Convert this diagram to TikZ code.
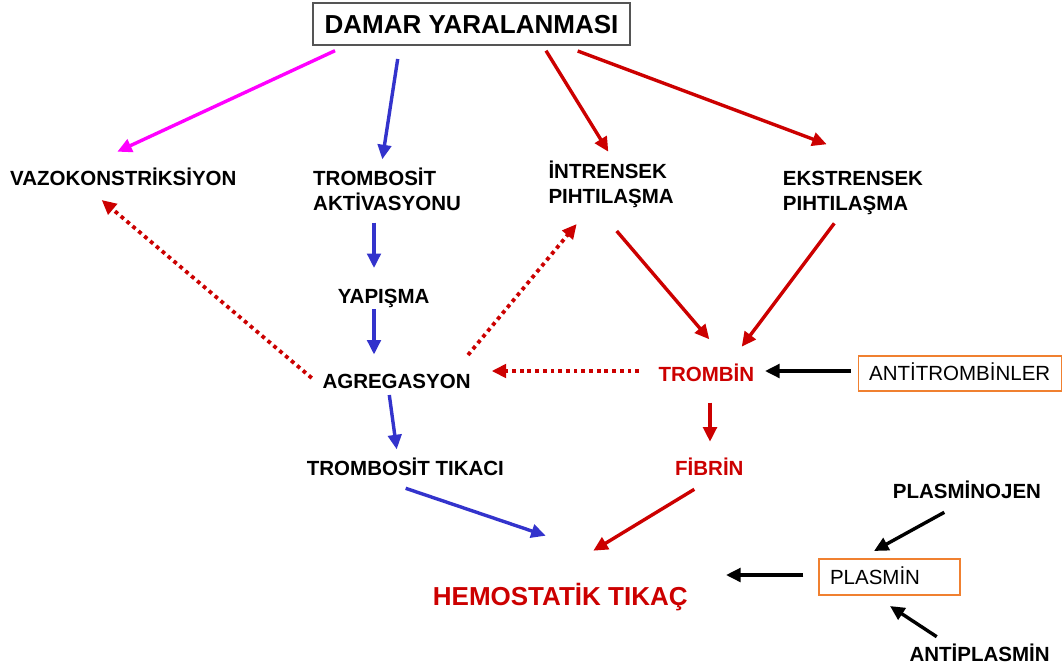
\documentclass[tikz,border=0pt]{standalone}
\usepackage{fontspec}
\setmainfont{Liberation Sans}
\usetikzlibrary{arrows.meta}
\definecolor{mag}{HTML}{FF00FF}
\definecolor{blu}{HTML}{3333CC}
\definecolor{rd}{HTML}{CC0000}
\definecolor{org}{HTML}{F08030}
\definecolor{boxgray}{HTML}{555555}
\begin{document}
\begin{tikzpicture}[x=1pt,y=-1pt,
  lbl/.style={font=\fontsize{20.5}{25}\selectfont\bfseries, inner sep=0pt, anchor=base west, align=left},
  redlbl/.style={lbl, text=rd},
  plainbox/.style={draw=org, line width=1.2pt, font=\fontsize{20.5}{25}\selectfont, text height=14.7pt, text depth=0pt, inner sep=0pt},
  arr/.style={line width=3.4pt, -{Triangle[length=14.5pt,width=13.5pt]}},
  dotarr/.style={line width=3.8pt, dash pattern=on 3.8pt off 3.9pt, rd, -{Triangle[length=14.5pt,width=13.5pt]}}
]
\useasboundingbox (0,0) rectangle (1062,670);
\fill[white] (0,0) rectangle (1062,670);

% nodes
\node[draw=boxgray, line width=1.2pt, fill=white, minimum width=317pt, minimum height=42pt,
      font=\fontsize{26}{30}\selectfont\bfseries, text height=18.6pt, text depth=0pt, inner sep=0pt]
      (dam) at (471.5,24) {DAMAR YARALANMASI};
\node[lbl] (vaz) at (10,185) {VAZOKONSTRİKSİYON};
\node[lbl] (tak) at (313,210) {TROMBOSİT\\AKTİVASYONU};
\node[lbl] (yap) at (337.7,303) {YAPIŞMA};
\node[lbl] (agr) at (322.3,388.3) {AGREGASYON};
\node[lbl] (ttk) at (306.7,475) {TROMBOSİT TIKACI};
\node[lbl] (int) at (548.3,203) {İNTRENSEK\\PIHTILAŞMA};
\node[lbl] (eks) at (782.7,210) {EKSTRENSEK\\PIHTILAŞMA};
\node[redlbl] (trm) at (658.3,381.7) {TROMBİN};
\node[redlbl] (fib) at (675,475) {FİBRİN};
\node[redlbl, font=\fontsize{26}{30}\selectfont\bfseries] (hem) at (432.7,605) {HEMOSTATİK TIKAÇ};
\node[lbl] (pno) at (892.7,498) {PLASMİNOJEN};
\node[lbl] (apl) at (909.3,661.5) {ANTİPLASMİN};
\node[plainbox, minimum width=203pt, minimum height=35pt] (atb) at (959.7,373.5) {ANTİTROMBİNLER};
\node[plainbox, text width=119pt, align=left, inner xsep=11pt, minimum height=36pt] (pls) at (889.5,577) {PLASMİN};

% connector end points
\coordinate (d1) at (335,50.7);   \coordinate (vazE) at (117.3,151.7);
\coordinate (d2) at (397.7,59);   \coordinate (takE) at (382.3,159.3);
\coordinate (d3) at (546,50.7);   \coordinate (intE) at (608.3,151.7);
\coordinate (d4) at (577.7,51);   \coordinate (eksE) at (826.7,144.3);
\coordinate (takS) at (374,222.7); \coordinate (yapE) at (374,268);
\coordinate (yapS) at (374,309);   \coordinate (agrE) at (374,354.5);
\coordinate (agrS) at (389.3,395); \coordinate (ttkE) at (396.7,449.3);
\coordinate (ttkS) at (405.7,488.3); \coordinate (hemE1) at (545.7,535.7);
\coordinate (fibS) at (694.3,489.3); \coordinate (hemE2) at (593.3,550.7);
\coordinate (trmS) at (710,402.7); \coordinate (fibE) at (710,441.7);
\coordinate (intS) at (616.7,231); \coordinate (trmE1) at (709.3,339.3);
\coordinate (eksS) at (834.3,223.3); \coordinate (trmE2) at (741.7,346.7);
\coordinate (trmD) at (639,371);   \coordinate (agrE2) at (491.7,371);
\coordinate (agrD1) at (468,355);  \coordinate (intE2) at (576.7,224);
\coordinate (agrD2) at (311.7,378); \coordinate (vazE2) at (101.7,200);
\coordinate (atbS) at (850.5,371); \coordinate (trmE3) at (765,371);
\coordinate (plsS) at (803.3,575); \coordinate (hemE3) at (726,575);
\coordinate (pnoS) at (944.3,512.3); \coordinate (plsE1) at (874,551);
\coordinate (aplS) at (936.7,636.7); \coordinate (plsE2) at (890,606);

% connectors
\draw[arr, mag] (d1) -- (vazE);
\draw[arr, blu] (d2) -- (takE);
\draw[arr, rd] (d3) -- (intE);
\draw[arr, rd] (d4) -- (eksE);
\draw[arr, blu] (takS) -- (yapE);
\draw[arr, blu] (yapS) -- (agrE);
\draw[arr, blu] (agrS) -- (ttkE);
\draw[arr, blu] (ttkS) -- (hemE1);
\draw[arr, rd] (fibS) -- (hemE2);
\draw[arr, rd] (trmS) -- (fibE);
\draw[arr, rd] (intS) -- (trmE1);
\draw[arr, rd] (eksS) -- (trmE2);
\draw[dotarr] (trmD) -- (agrE2);
\draw[dotarr] (agrD1) -- (intE2);
\draw[dotarr] (agrD2) -- (vazE2);
\draw[arr, black] (atbS) -- (trmE3);
\draw[arr, black] (plsS) -- (hemE3);
\draw[arr, black] (pnoS) -- (plsE1);
\draw[arr, black] (aplS) -- (plsE2);
\end{tikzpicture}
\end{document}
